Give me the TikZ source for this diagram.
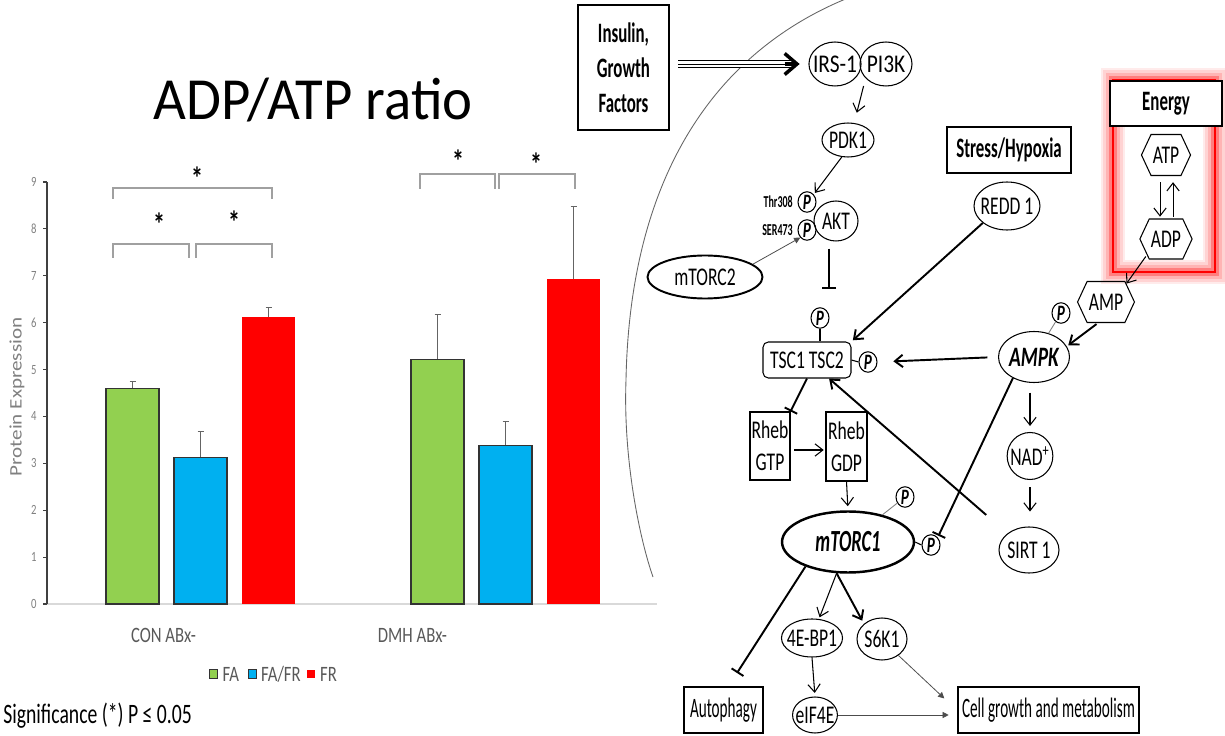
\documentclass[tikz,border=0pt]{standalone}
\usepackage{fontspec}
\setmainfont{Carlito}
\newfontfamily\titlefont[FakeStretch=0.95]{Carlito}
\newfontfamily\chartfont[FakeStretch=0.76]{Carlito}
\newfontfamily\tallfont[FakeStretch=1.2]{Carlito}
\newfontfamily\sigfont[FakeStretch=0.7]{Carlito}
\newfontfamily\pathfont[FakeStretch=0.69]{Carlito}
\newfontfamily\irsfont[FakeStretch=0.84]{Carlito}
\newfontfamily\boxfont[FakeStretch=0.6]{Carlito}
\newfontfamily\outfont[FakeStretch=0.54]{Carlito}
\usetikzlibrary{shapes.geometric, shapes.symbols, arrows.meta, positioning}

\definecolor{fagreen}{RGB}{146,208,80}
\definecolor{fablue}{RGB}{0,176,240}
\definecolor{frred}{RGB}{255,0,0}
\definecolor{labgray}{RGB}{89,89,89}
\definecolor{tickgray}{RGB}{128,128,128}
\definecolor{basegray}{RGB}{217,217,217}
\definecolor{brackgray}{RGB}{160,160,160}
\definecolor{errgray}{RGB}{100,100,100}

\begin{document}
\begin{tikzpicture}[x=0.02cm, y=-0.02cm, inner sep=0pt, >={Straight Barb[length=4.5pt,width=7pt]}]
	\tikzstyle{every node}=[align=center]
	% chart
	\tikzstyle{tick}=[anchor=east, text=tickgray, font=\chartfont\fontsize{8}{8}\selectfont]
	\tikzstyle{cat}=[text=labgray, font=\chartfont\fontsize{12.5}{12.5}\selectfont]
	\tikzstyle{star}=[font=\chartfont\bfseries\fontsize{18}{18}\selectfont]
	\tikzstyle{bracket}=[brackgray, line width=0.7pt]
	\tikzstyle{legkey}=[draw=black!80, line width=0.6pt, minimum size=0.17cm]
	% pathway
	\tikzstyle{mol}=[ellipse, draw, line width=0.6pt, inner xsep=-2pt, font=\pathfont\fontsize{14.5}{14.5}\selectfont]
	\tikzstyle{phos}=[ellipse, draw, line width=0.6pt, inner xsep=-1pt, minimum width=0.36cm, minimum height=0.41cm, font=\pathfont\bfseries\itshape\fontsize{12.5}{12.5}\selectfont]
	\tikzstyle{hexa}=[signal, signal to=west and east, signal pointer angle=130, draw, line width=0.6pt, inner xsep=1pt, minimum height=0.82cm, font=\pathfont\fontsize{14.5}{14.5}\selectfont]
	\tikzstyle{stim}=[draw, line width=1.6pt, font=\boxfont\bfseries\fontsize{16}{19.8}\selectfont]
	\tikzstyle{outbox}=[draw, line width=1.6pt, font=\outfont\fontsize{16}{16}\selectfont]
	\tikzstyle{rheb}=[draw, line width=0.6pt, font=\pathfont\fontsize{14.5}{18}\selectfont]
	\tikzstyle{site}=[font=\boxfont\bfseries\fontsize{9.5}{9.5}\selectfont]
	\tikzstyle{act}=[->, line width=0.6pt]
	\tikzstyle{actb}=[->, line width=1.1pt]
	\tikzstyle{inhib}=[-{Bar[width=8pt]}, line width=1.1pt]
	\tikzstyle{thin}=[-{Triangle[length=3.5pt,width=3.5pt]}, line width=0.45pt, black!70]
	\tikzstyle{plink}=[line width=0.5pt, black!50]

	\useasboundingbox (0,0) rectangle (1225,736);

	% ---- bar chart ----
	\node[font=\titlefont\fontsize{34}{34}\selectfont] (title) at (313,100) {ADP/ATP ratio};
	\node[rotate=90, text=tickgray, font=\tallfont\fontsize{10}{10}\selectfont] (ylab) at (17,397) {Protein Expression};

	\begin{scope}[shift={(0,604)}, y=0.938cm]
		\draw[basegray, line width=1.2pt] (47,0) -- (657,0);
		\draw[black!75, line width=0.6pt] (47,0) -- (47,9);
		\foreach \t in {0,...,9} {
			\draw[black!75, line width=0.6pt] (43,\t) -- (47,\t);
			\node[tick] at (37,\t) {\t};
		}
		% left edge / value / error top / colour
		\foreach \x/\v/\e/\c in {106/4.60/4.75/fagreen, 174/3.13/3.68/fablue, 411/5.22/6.18/fagreen, 479/3.39/3.90/fablue} {
			\draw[errgray, line width=0.7pt] (\x+26.5,\v) -- (\x+26.5,\e) (\x+23.5,\e) -- (\x+29.5,\e);
			\filldraw[fill=\c, draw=black!80, line width=0.6pt] (\x,0) rectangle (\x+53,\v);
		}
		\foreach \x/\v/\e in {242/6.13/6.33, 547/6.93/8.48} {
			\draw[errgray, line width=0.7pt] (\x+26.5,\v) -- (\x+26.5,\e) (\x+23.5,\e) -- (\x+29.5,\e);
			\fill[frred] (\x,0) rectangle (\x+53,\v);
		}
	\end{scope}

	% significance brackets
	\draw[bracket] (113,199) -- (113,188) -- (272,188) -- (272,199);
	\draw[bracket] (113,258) -- (113,244) -- (189,244) -- (189,258);
	\draw[bracket] (196,258) -- (196,244) -- (272,244) -- (272,258);
	\draw[bracket] (420,189) -- (420,174) -- (495,174) -- (495,189);
	\draw[bracket] (499,189) -- (499,174) -- (575,174) -- (575,189);
	\node[star] (s1) at (197,178) {*};
	\node[star] (s2) at (159,224) {*};
	\node[star] (s3) at (234,222) {*};
	\node[star] (s4) at (458,161) {*};
	\node[star] (s5) at (536,164) {*};

	\node[cat] (con) at (163.5,635) {CON ABx-};
	\node[cat] (dmh) at (412.5,635) {DMH ABx-};

	\node[legkey, fill=fagreen] (kfa) at (213.5,674) {};
	\node[cat, right=2.3pt of kfa] (tfa) {FA};
	\node[legkey, fill=fablue] (kfafr) at (252.5,674) {};
	\node[cat, right=2pt of kfafr] (tfafr) {FA/FR};
	\node[legkey, fill=frred, draw=none] (kfr) at (311,674) {};
	\node[cat, right=2.3pt of kfr] (tfr) {FR};

	\node[anchor=west, font=\sigfont\fontsize{16}{16}\selectfont] (sig) at (3,716) {Significance (*) P ≤ 0.05};

	% ---- signalling pathway ----
	\draw[black!60, line width=0.5pt] (848,-2) .. controls (720,50) and (630,170) .. (626,380) .. controls (623,460) and (640,540) .. (653,577);

	\node[stim, minimum width=1.82cm, minimum height=2.5cm] (ins) at (623.5,67.5) {Insulin,\\Growth\\Factors};
	\node[mol, font=\irsfont\fontsize{14.5}{14.5}\selectfont, minimum width=1.04cm, minimum height=0.88cm] (irs) at (835,64) {IRS-1};
	\node[mol, font=\irsfont\fontsize{14.5}{14.5}\selectfont, minimum width=1.04cm, minimum height=0.88cm] (pik) at (886,64) {PI3K};
	\node[mol, minimum width=1.04cm, minimum height=0.68cm] (pdk) at (848,140) {PDK1};
	\node[mol, minimum width=0.88cm, minimum height=0.8cm] (akt) at (836,221) {AKT};
	\node[phos] (pthr) at (807,202) {P};
	\node[phos] (pser) at (807,230) {P};
	\node[site, left=2.5pt of pthr] (thr) {Thr308};
	\node[site, left=2.5pt of pser] (ser) {SER473};
	\node[mol, line width=1.1pt, minimum width=2.3cm, minimum height=0.86cm] (mt2) at (705,277) {mTORC2};

	\node[draw, rounded corners=3pt, line width=0.6pt, minimum width=1.76cm, minimum height=0.72cm, font=\pathfont\fontsize{14.5}{14.5}\selectfont] (tsc) at (807,360) {TSC1 TSC2};
	\node[phos] (ptsc) at (820,318) {P};
	\node[phos] (ptsc2) at (868,362) {P};

	\node[stim, minimum width=2.48cm, minimum height=0.92cm] (stress) at (1009,150) {Stress/Hypoxia};
	\node[mol, minimum width=1.32cm, minimum height=0.96cm] (redd) at (1007,206) {REDD 1};

	% energy sensing panel
	\foreach \w/\o in {14pt/0.08, 11pt/0.1, 8pt/0.15, 5pt/0.3}
		\draw[frred, line width=\w, opacity=\o] (1113,80) rectangle (1215,272);
	\draw[frred, line width=1.3pt] (1113,80) rectangle (1215,272);
	\node[stim, fill=white, minimum width=2.24cm, minimum height=0.9cm] (energy) at (1166,103.5) {Energy};
	\node[hexa, minimum width=0.86cm] (atp) at (1166,155) {ATP};
	\node[hexa, minimum width=0.84cm, minimum height=0.8cm] (adp) at (1166,239) {ADP};
	\node[hexa, minimum width=0.88cm] (amp) at (1106,302) {AMP};

	\node[mol, font=\pathfont\bfseries\itshape\fontsize{16}{16}\selectfont, minimum width=1.42cm, minimum height=1.02cm] (ampk) at (1034,357) {AMPK};
	\node[phos] (pampk) at (1061,313) {P};
	\node[mol, minimum width=0.88cm, minimum height=0.94cm] (nad) at (1030,456) {NAD\textsuperscript{+}};
	\node[mol, minimum width=1.2cm, minimum height=0.92cm] (sirt) at (1029,550) {SIRT 1};

	\node[rheb, minimum width=0.8cm, minimum height=1.36cm] (rgtp) at (770,446) {Rheb\\GTP};
	\node[rheb, minimum width=0.82cm, minimum height=1.38cm] (rgdp) at (846.5,446.5) {Rheb\\GDP};

	\node[mol, line width=1.4pt, font=\boxfont\bfseries\itshape\fontsize{17.5}{17.5}\selectfont, minimum width=2.64cm, minimum height=1.22cm] (mt1) at (848,542) {mTORC1};
	\node[phos] (pmt) at (905,497) {P};
	\node[phos] (pmt2) at (931,545) {P};

	\node[mol, minimum width=1cm, minimum height=0.76cm] (ebp) at (812,638) {4E-BP1};
	\node[mol, minimum width=1cm, minimum height=0.84cm] (s6k) at (882,639) {S6K1};
	\node[mol, minimum width=0.86cm, minimum height=0.72cm] (eif) at (815,715) {eIF4E};
	\node[outbox, minimum width=1.58cm, minimum height=0.92cm] (auto) at (723.5,710) {Autophagy};
	\node[outbox, minimum width=3.62cm, minimum height=0.92cm] (cell) at (1048.5,710) {Cell growth and metabolism};

	\coordinate (aktbar) at (829,289);
	\coordinate (autobar) at (737,673);

	% insulin input
	\draw[double distance=3.2pt, line width=0.5pt, shorten <=4.5pt, shorten >=9pt] (ins.east |- irs.west) -- (irs.west);
	\draw[line width=0.5pt, shorten <=4.5pt, shorten >=9pt] (ins.east |- irs.west) -- (irs.west);
	\draw[-{Straight Barb[length=7pt,width=12pt]}, line width=2pt, shorten >=5pt] ([xshift=-13.5pt]irs.west) -- (irs.west);
	\draw[act, shorten <=4.5pt, shorten >=6pt] (pik.-145) -- (pdk.70);
	\draw[act, shorten >=1pt] (pdk.-110) -- (pthr.north east);
	\draw[thin] (mt2.15) -- (pser.south west);
	\draw[inhib, shorten <=4pt] (akt.south -| aktbar) -- (aktbar);

	% TSC complex and inputs
	\draw[line width=0.6pt] (ptsc.south) -- (ptsc.south |- tsc.north);
	\draw[line width=0.6pt] (tsc.east) -- (ptsc2.west);
	\draw[actb, shorten >=1pt] (redd.215) -- (tsc.north east);
	\draw[actb, shorten <=6pt, shorten >=9pt] (ampk.west) -- (ptsc2.east);
	\draw[actb, shorten <=16pt] (sirt.north west) -- (tsc.-40);
	\draw[inhib] (tsc.south) -- (rgtp.north east);
	\draw[act, shorten <=2pt, shorten >=1pt] (rgtp.east |- 0,450) -- (rgdp.west |- 0,450);
	\draw[act, shorten >=2.3pt] (rgdp.south) -- (mt1.north);

	% energy
	\draw[act, shorten <=3.5pt, shorten >=1pt] ([xshift=-3.4pt]atp.south) -- ([xshift=-3.4pt]adp.north);
	\draw[act, shorten <=1pt, shorten >=3.5pt] ([xshift=4pt]adp.north) -- ([xshift=4pt]atp.south);
	\draw[act, shorten <=1pt] (adp.220) -- (amp.42);
	\draw[actb, shorten <=1pt, shorten >=1pt] (amp.-111) -- (ampk.18);
	\draw[plink] (pampk) -- (ampk);
	\draw[act, shorten <=5.5pt, shorten >=3.4pt] (ampk.south -| nad) -- (nad.north);
	\draw[act, shorten <=4pt, shorten >=8.5pt] (nad.south) -- (sirt.north -| nad);
	\draw[inhib, shorten >=1pt] (ampk.-135) -- (pmt2.north east);

	% mTORC1 outputs
	\draw[plink] (pmt) -- (mt1);
	\draw[line width=0.6pt] (mt1.east) -- (pmt2.west);
	\draw[inhib] (mt1.-150) -- (autobar);
	\draw[act, shorten >=1pt] (mt1.-110) -- (ebp.70);
	\draw[actb, shorten >=2pt] (mt1.-110) -- (s6k.north west);
	\draw[act, shorten >=2pt] (ebp.south) -- (eif.north);
	\draw[thin, shorten >=4.5pt] (eif.east) -- (cell.west |- eif.east);
	\draw[thin, shorten >=9.6pt] (s6k.-45) -- (cell.west);
\end{tikzpicture}
\end{document}
